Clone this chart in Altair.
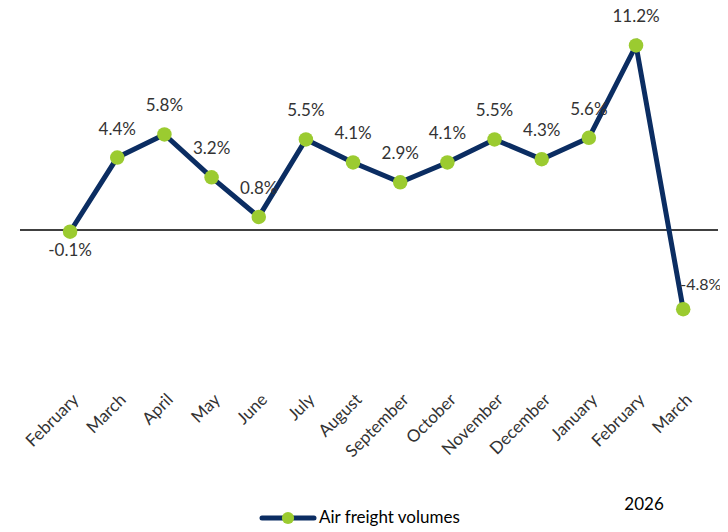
import altair as alt
import pandas as pd

months = ["February", "March", "April", "May", "June", "July", "August",
          "September", "October", "November", "December", "January", "February", "March"]
years = [2025] * 11 + [2026] * 3
values = [-0.1, 4.4, 5.8, 3.2, 0.8, 5.5, 4.1, 2.9, 4.1, 5.5, 4.3, 5.6, 11.2, -4.8]
series_name = "Air freight volumes"
year_label = "2026"

keys = [f"{m} {y}" for m, y in zip(months, years)]
df = pd.DataFrame({"key": keys, "month": months, "year": years, "value": values,
                   "idx": list(range(len(values)))})
df["label"] = [f"{v:.1f}%" for v in values]

NAVY = "#0b2d62"
GREEN = "#9bcb30"
TXT = "#333333"
FONT = "Lato"

W, H = 698, 338

xscale = alt.Scale(type="point", padding=0.9, align=0.59)
x = alt.X("key:N", sort=keys, scale=xscale,
          axis=alt.Axis(title=None, labelAngle=-45, domain=False, ticks=False, grid=False,
                        labelFont=FONT, labelFontSize=17, labelColor=TXT, labelPadding=29,
                        labelExpr="split(datum.label, ' ')[0]"))
yscale = alt.Scale(domain=[-8, 12.5], nice=False, zero=False)
y = alt.Y("value:Q", scale=yscale, axis=None)

base = alt.Chart(df).encode(x=x, y=y)

zero = alt.Chart(pd.DataFrame({"z": [0]})).mark_rule(color="black", strokeWidth=1.5).encode(
    y=alt.Y("z:Q", scale=yscale, axis=None),
    x=alt.value(0), x2=alt.value(W))

line = base.mark_line(color=NAVY, strokeWidth=5)
pts = base.mark_point(filled=True, color=GREEN, size=210, opacity=1)

txt_style = dict(font=FONT, fontSize=17, color=TXT)
above = base.transform_filter("datum.idx > 0 && datum.idx < 13").mark_text(
    dy=-28, align="center", baseline="middle", **txt_style).encode(text="label:N")
first = base.transform_filter("datum.idx == 0").mark_text(
    dy=19, align="center", baseline="middle", **txt_style).encode(text="label:N")
last = base.transform_filter("datum.idx == 13").mark_text(
    dx=-3, dy=-24, align="left", baseline="middle", font=FONT, fontSize=16, color=TXT
).encode(text="label:N")

year_df = pd.DataFrame({"key": ["February 2026"], "t": [year_label]})
year_txt = alt.Chart(year_df).mark_text(dx=8, align="center", baseline="middle",
                                        font=FONT, fontSize=17, color="black").encode(
    x=alt.X("key:N", sort=keys), y=alt.value(481), text="t:N")

leg_df = pd.DataFrame({"s": [series_name]})
LY = 494
leg_line = alt.Chart(leg_df).mark_rule(color=NAVY, strokeWidth=5, strokeCap="round").encode(
    x=alt.value(242), x2=alt.value(294), y=alt.value(LY))
leg_pt = alt.Chart(leg_df).mark_point(filled=True, color=GREEN, size=150, opacity=1).encode(
    x=alt.value(268), y=alt.value(LY))
leg_txt = alt.Chart(leg_df).mark_text(align="left", baseline="middle", font=FONT,
                                      fontSize=17, color="black").encode(
    x=alt.value(299), y=alt.value(LY), text="s:N")

chart = alt.layer(zero, line, pts, above, first, last, year_txt, leg_line, leg_pt, leg_txt).properties(
    width=W, height=H,
    autosize=alt.AutoSizeParams(type="none"),
    padding={"left": 12, "top": 16, "right": 2, "bottom": 166},
).configure_view(stroke=None)

chart.save("out.html", embed_options={"renderer": "svg", "actions": False})
